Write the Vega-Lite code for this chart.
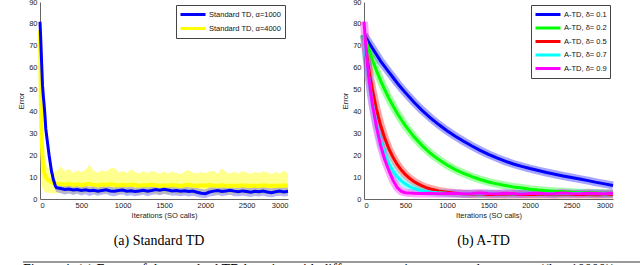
{
"$schema": "https://vega.github.io/schema/vega-lite/v6.json",
"padding": {"left": 17, "top": -2, "right": 0, "bottom": 0},
"config": {
  "view": {"stroke": null},
  "font": "Liberation Sans",
  "axis": {"grid": false, "ticks": false, "domainColor": "#666", "labelFont": "Liberation Sans", "labelFontSize": 7.5, "labelColor": "#222", "titleFont": "Liberation Sans", "titleFontSize": 7.5, "titleFontWeight": "normal", "titleColor": "#222", "format": "d"},
  "legend": {"orient": "top-right", "offset": 3, "strokeColor": "#444", "fillColor": "white", "padding": 3, "cornerRadius": 0, "symbolType": "M-1,0H4", "symbolStrokeWidth": 3, "symbolSize": 100, "symbolOpacity": 1, "labelFont": "Liberation Sans", "labelFontSize": 7.5, "labelColor": "#111", "labelOffset": 17, "rowPadding": 1}
},
"datasets": {
  "left": [
    {"x":0,"a":1000,"v":81,"lo":79,"hi":82},{"x":10,"a":1000,"v":72,"lo":69,"hi":75},{"x":20,"a":1000,"v":62,"lo":58,"hi":66},{"x":30,"a":1000,"v":52,"lo":48,"hi":56},{"x":40,"a":1000,"v":47,"lo":43,"hi":51},{"x":50,"a":1000,"v":43,"lo":39,"hi":46},{"x":60,"a":1000,"v":38,"lo":34,"hi":41},{"x":70,"a":1000,"v":32,"lo":29,"hi":35},{"x":80,"a":1000,"v":29,"lo":26,"hi":32},{"x":90,"a":1000,"v":26,"lo":23,"hi":29},{"x":100,"a":1000,"v":23,"lo":20,"hi":26},{"x":110,"a":1000,"v":20,"lo":17.5,"hi":23},{"x":120,"a":1000,"v":17.5,"lo":15,"hi":20},{"x":130,"a":1000,"v":15,"lo":12.5,"hi":17.5},{"x":140,"a":1000,"v":12.5,"lo":10,"hi":15},{"x":150,"a":1000,"v":11,"lo":8.5,"hi":13},{"x":160,"a":1000,"v":9,"lo":7,"hi":11},{"x":170,"a":1000,"v":8,"lo":6,"hi":10},{"x":185,"a":1000,"v":6,"lo":4,"hi":8},{"x":200,"a":1000,"v":5.2,"lo":3.2,"hi":7.2},
    {"x":250,"a":1000,"v":4.8,"lo":2.6,"hi":6.7},{"x":300,"a":1000,"v":4.4,"lo":2.1,"hi":6.0},{"x":350,"a":1000,"v":4.6,"lo":2.5,"hi":6.6},{"x":400,"a":1000,"v":4.1,"lo":1.8,"hi":5.9},{"x":450,"a":1000,"v":4.3,"lo":2.4,"hi":6.3},{"x":500,"a":1000,"v":3.9,"lo":1.6,"hi":5.6},{"x":550,"a":1000,"v":4.2,"lo":2.2,"hi":6.1},{"x":600,"a":1000,"v":3.8,"lo":1.4,"hi":5.5},{"x":650,"a":1000,"v":4.0,"lo":2.0,"hi":6.2},{"x":700,"a":1000,"v":3.6,"lo":1.5,"hi":5.3},{"x":750,"a":1000,"v":3.9,"lo":1.9,"hi":5.8},{"x":800,"a":1000,"v":4.2,"lo":2.3,"hi":6.0},{"x":850,"a":1000,"v":3.7,"lo":1.5,"hi":5.6},{"x":900,"a":1000,"v":3.5,"lo":1.2,"hi":5.2},{"x":950,"a":1000,"v":3.9,"lo":1.8,"hi":5.9},{"x":1000,"a":1000,"v":4.1,"lo":2.1,"hi":6.0},{"x":1050,"a":1000,"v":3.6,"lo":1.4,"hi":5.4},{"x":1100,"a":1000,"v":3.8,"lo":1.7,"hi":5.9},{"x":1150,"a":1000,"v":3.4,"lo":1.3,"hi":5.1},{"x":1200,"a":1000,"v":3.7,"lo":1.6,"hi":5.5},{"x":1250,"a":1000,"v":4.0,"lo":1.9,"hi":6.1},{"x":1300,"a":1000,"v":3.6,"lo":1.3,"hi":5.4},{"x":1350,"a":1000,"v":3.9,"lo":1.8,"hi":5.8},{"x":1400,"a":1000,"v":4.3,"lo":2.2,"hi":6.2},{"x":1450,"a":1000,"v":4.0,"lo":1.7,"hi":5.9},{"x":1500,"a":1000,"v":4.4,"lo":2.3,"hi":6.4},{"x":1550,"a":1000,"v":4.1,"lo":1.9,"hi":6.0},{"x":1600,"a":1000,"v":3.7,"lo":1.5,"hi":5.7},{"x":1650,"a":1000,"v":3.9,"lo":1.6,"hi":5.8},{"x":1700,"a":1000,"v":3.5,"lo":1.2,"hi":5.3},{"x":1750,"a":1000,"v":3.8,"lo":1.6,"hi":5.9},{"x":1800,"a":1000,"v":3.4,"lo":1.1,"hi":5.2},{"x":1850,"a":1000,"v":3.6,"lo":1.5,"hi":5.4},{"x":1900,"a":1000,"v":3.1,"lo":1.0,"hi":5.0},{"x":1950,"a":1000,"v":2.6,"lo":0.6,"hi":4.6},{"x":2000,"a":1000,"v":2.4,"lo":0.5,"hi":4.3},{"x":2050,"a":1000,"v":3.2,"lo":1.1,"hi":5.2},{"x":2100,"a":1000,"v":3.6,"lo":1.4,"hi":5.5},{"x":2150,"a":1000,"v":3.9,"lo":1.8,"hi":5.8},{"x":2200,"a":1000,"v":3.4,"lo":1.2,"hi":5.3},{"x":2250,"a":1000,"v":3.7,"lo":1.6,"hi":5.7},{"x":2300,"a":1000,"v":4.0,"lo":1.9,"hi":6.0},{"x":2350,"a":1000,"v":3.6,"lo":1.3,"hi":5.4},{"x":2400,"a":1000,"v":3.3,"lo":1.2,"hi":5.2},{"x":2450,"a":1000,"v":3.7,"lo":1.5,"hi":5.6},{"x":2500,"a":1000,"v":3.4,"lo":1.3,"hi":5.3},{"x":2550,"a":1000,"v":3.1,"lo":0.9,"hi":5.0},{"x":2600,"a":1000,"v":3.5,"lo":1.4,"hi":5.5},{"x":2650,"a":1000,"v":3.3,"lo":1.1,"hi":5.2},{"x":2700,"a":1000,"v":3.6,"lo":1.5,"hi":5.6},{"x":2750,"a":1000,"v":3.2,"lo":1.0,"hi":5.1},{"x":2800,"a":1000,"v":2.9,"lo":0.8,"hi":4.8},{"x":2850,"a":1000,"v":3.3,"lo":1.2,"hi":5.3},{"x":2900,"a":1000,"v":3.6,"lo":1.5,"hi":5.5},{"x":2950,"a":1000,"v":3.2,"lo":1.1,"hi":5.2},{"x":3000,"a":1000,"v":3.5,"lo":1.4,"hi":5.4},
    {"x":0,"a":4000,"v":77,"lo":30,"hi":80},{"x":5,"a":4000,"v":62,"lo":22,"hi":70},{"x":10,"a":4000,"v":45,"lo":15,"hi":55},{"x":15,"a":4000,"v":35,"lo":10,"hi":42},{"x":20,"a":4000,"v":28,"lo":7,"hi":34},{"x":30,"a":4000,"v":20,"lo":5,"hi":26},{"x":40,"a":4000,"v":15,"lo":4,"hi":21},{"x":50,"a":4000,"v":12,"lo":3.5,"hi":18},{"x":70,"a":4000,"v":10,"lo":3,"hi":16},{"x":100,"a":4000,"v":8.5,"lo":2.8,"hi":14},{"x":150,"a":4000,"v":7.5,"lo":2.5,"hi":13.5},{"x":200,"a":4000,"v":7.0,"lo":2.6,"hi":12.5},
    {"x":250,"a":4000,"v":6.8,"lo":2.9,"hi":14.8},{"x":300,"a":4000,"v":6.6,"lo":2.4,"hi":12.6},{"x":350,"a":4000,"v":6.9,"lo":3.1,"hi":13.8},{"x":400,"a":4000,"v":6.4,"lo":2.2,"hi":11.9},{"x":450,"a":4000,"v":6.7,"lo":2.8,"hi":13.1},{"x":500,"a":4000,"v":6.3,"lo":2.3,"hi":12.2},{"x":550,"a":4000,"v":6.6,"lo":2.9,"hi":13.4},{"x":600,"a":4000,"v":6.9,"lo":3.2,"hi":15.6},{"x":650,"a":4000,"v":6.5,"lo":2.6,"hi":12.9},{"x":700,"a":4000,"v":6.2,"lo":2.1,"hi":12.0},{"x":750,"a":4000,"v":6.6,"lo":2.7,"hi":13.2},{"x":800,"a":4000,"v":6.4,"lo":2.5,"hi":12.4},{"x":850,"a":4000,"v":6.8,"lo":3.0,"hi":13.9},{"x":900,"a":4000,"v":6.5,"lo":2.4,"hi":14.3},{"x":950,"a":4000,"v":6.2,"lo":2.2,"hi":12.1},{"x":1000,"a":4000,"v":6.5,"lo":2.8,"hi":12.8},{"x":1050,"a":4000,"v":6.3,"lo":2.3,"hi":11.9},{"x":1100,"a":4000,"v":6.6,"lo":2.9,"hi":13.5},{"x":1150,"a":4000,"v":6.4,"lo":2.4,"hi":12.3},{"x":1200,"a":4000,"v":6.1,"lo":2.0,"hi":11.6},{"x":1250,"a":4000,"v":6.4,"lo":2.6,"hi":12.7},{"x":1300,"a":4000,"v":6.2,"lo":2.2,"hi":11.8},{"x":1350,"a":4000,"v":6.5,"lo":2.7,"hi":12.9},{"x":1400,"a":4000,"v":6.3,"lo":2.3,"hi":12.2},{"x":1450,"a":4000,"v":6.0,"lo":2.0,"hi":11.5},{"x":1500,"a":4000,"v":6.3,"lo":2.5,"hi":12.6},{"x":1550,"a":4000,"v":6.1,"lo":2.1,"hi":11.7},{"x":1600,"a":4000,"v":6.4,"lo":2.6,"hi":12.4},{"x":1650,"a":4000,"v":6.2,"lo":2.2,"hi":11.9},{"x":1700,"a":4000,"v":6.0,"lo":2.0,"hi":11.3},{"x":1750,"a":4000,"v":6.3,"lo":2.4,"hi":12.5},{"x":1800,"a":4000,"v":6.5,"lo":2.7,"hi":13.2},{"x":1850,"a":4000,"v":6.2,"lo":2.3,"hi":12.0},{"x":1900,"a":4000,"v":6.0,"lo":2.0,"hi":11.6},{"x":1950,"a":4000,"v":6.3,"lo":2.5,"hi":12.3},{"x":2000,"a":4000,"v":6.1,"lo":2.1,"hi":11.8},{"x":2050,"a":4000,"v":6.4,"lo":2.6,"hi":12.6},{"x":2100,"a":4000,"v":6.2,"lo":2.2,"hi":12.9},{"x":2150,"a":4000,"v":6.0,"lo":2.0,"hi":11.4},{"x":2200,"a":4000,"v":6.3,"lo":2.4,"hi":14.0},{"x":2250,"a":4000,"v":6.1,"lo":2.2,"hi":12.2},{"x":2300,"a":4000,"v":5.9,"lo":1.9,"hi":11.6},{"x":2350,"a":4000,"v":6.2,"lo":2.4,"hi":12.4},{"x":2400,"a":4000,"v":6.0,"lo":2.1,"hi":11.7},{"x":2450,"a":4000,"v":6.3,"lo":2.5,"hi":12.8},{"x":2500,"a":4000,"v":6.1,"lo":2.2,"hi":12.0},{"x":2550,"a":4000,"v":5.9,"lo":1.9,"hi":11.5},{"x":2600,"a":4000,"v":6.2,"lo":2.3,"hi":12.3},{"x":2650,"a":4000,"v":6.0,"lo":2.1,"hi":11.8},{"x":2700,"a":4000,"v":6.3,"lo":2.5,"hi":12.7},{"x":2750,"a":4000,"v":6.1,"lo":2.2,"hi":12.1},{"x":2800,"a":4000,"v":5.9,"lo":1.9,"hi":11.4},{"x":2850,"a":4000,"v":6.2,"lo":2.3,"hi":12.2},{"x":2900,"a":4000,"v":6.0,"lo":2.1,"hi":11.7},{"x":2950,"a":4000,"v":6.3,"lo":2.5,"hi":12.9},{"x":3000,"a":4000,"v":6.1,"lo":2.2,"hi":11.6}
  ],
  "right": [
    {"x":0,"d":0.1,"v":75},{"x":50,"d":0.1,"v":72},{"x":100,"d":0.1,"v":69},{"x":150,"d":0.1,"v":66},{"x":200,"d":0.1,"v":63},{"x":250,"d":0.1,"v":60.5},{"x":300,"d":0.1,"v":58},{"x":350,"d":0.1,"v":55.5},{"x":400,"d":0.1,"v":53},{"x":450,"d":0.1,"v":50.7},{"x":500,"d":0.1,"v":48.5},{"x":600,"d":0.1,"v":44.3},{"x":700,"d":0.1,"v":40.5},{"x":800,"d":0.1,"v":37.1},{"x":900,"d":0.1,"v":34},{"x":1000,"d":0.1,"v":31.2},{"x":1100,"d":0.1,"v":28.7},{"x":1200,"d":0.1,"v":26.4},{"x":1300,"d":0.1,"v":24.2},{"x":1400,"d":0.1,"v":22.2},{"x":1500,"d":0.1,"v":20.4},{"x":1600,"d":0.1,"v":18.8},{"x":1700,"d":0.1,"v":17.3},{"x":1800,"d":0.1,"v":16},{"x":1900,"d":0.1,"v":14.9},{"x":2000,"d":0.1,"v":13.9},{"x":2100,"d":0.1,"v":13},{"x":2200,"d":0.1,"v":12.1},{"x":2300,"d":0.1,"v":11.3},{"x":2400,"d":0.1,"v":10.5},{"x":2500,"d":0.1,"v":9.8},{"x":2600,"d":0.1,"v":9.1},{"x":2700,"d":0.1,"v":8.4},{"x":2800,"d":0.1,"v":7.6},{"x":2900,"d":0.1,"v":6.9},{"x":3000,"d":0.1,"v":6.2},
    {"x":0,"d":0.2,"v":75},{"x":50,"d":0.2,"v":69.1},{"x":100,"d":0.2,"v":63.7},{"x":150,"d":0.2,"v":58.7},{"x":200,"d":0.2,"v":54.1},{"x":250,"d":0.2,"v":49.9},{"x":300,"d":0.2,"v":46},{"x":350,"d":0.2,"v":42.5},{"x":400,"d":0.2,"v":39.2},{"x":450,"d":0.2,"v":36.2},{"x":500,"d":0.2,"v":33.4},{"x":600,"d":0.2,"v":28.5},{"x":700,"d":0.2,"v":24.4},{"x":800,"d":0.2,"v":20.9},{"x":900,"d":0.2,"v":18},{"x":1000,"d":0.2,"v":15.5},{"x":1100,"d":0.2,"v":13.4},{"x":1200,"d":0.2,"v":11.7},{"x":1300,"d":0.2,"v":10.2},{"x":1400,"d":0.2,"v":8.9},{"x":1500,"d":0.2,"v":7.8},{"x":1600,"d":0.2,"v":6.9},{"x":1700,"d":0.2,"v":6.2},{"x":1800,"d":0.2,"v":5.5},{"x":1900,"d":0.2,"v":5.0},{"x":2000,"d":0.2,"v":4.5},{"x":2100,"d":0.2,"v":4.1},{"x":2200,"d":0.2,"v":3.8},{"x":2300,"d":0.2,"v":3.5},{"x":2400,"d":0.2,"v":3.3},{"x":2500,"d":0.2,"v":3.1},{"x":2600,"d":0.2,"v":2.9},{"x":2700,"d":0.2,"v":2.8},{"x":2800,"d":0.2,"v":2.7},{"x":2900,"d":0.2,"v":2.6},{"x":3000,"d":0.2,"v":2.5},
    {"x":0,"d":0.5,"v":75},{"x":25,"d":0.5,"v":67.8},{"x":50,"d":0.5,"v":61.3},{"x":75,"d":0.5,"v":55.3},{"x":100,"d":0.5,"v":50.1},{"x":150,"d":0.5,"v":41.1},{"x":200,"d":0.5,"v":33.7},{"x":250,"d":0.5,"v":27.8},{"x":300,"d":0.5,"v":22.9},{"x":350,"d":0.5,"v":19},{"x":400,"d":0.5,"v":15.8},{"x":450,"d":0.5,"v":13.2},{"x":500,"d":0.5,"v":11.1},{"x":550,"d":0.5,"v":9.4},{"x":600,"d":0.5,"v":8},{"x":650,"d":0.5,"v":6.9},{"x":700,"d":0.5,"v":6},{"x":750,"d":0.5,"v":5.2},{"x":800,"d":0.5,"v":4.6},{"x":900,"d":0.5,"v":3.7},{"x":1000,"d":0.5,"v":3.1},{"x":1100,"d":0.5,"v":2.6},{"x":1200,"d":0.5,"v":2.4},{"x":1300,"d":0.5,"v":2.2},{"x":1400,"d":0.5,"v":2.3},{"x":1500,"d":0.5,"v":2.1},{"x":1600,"d":0.5,"v":2.2},{"x":1700,"d":0.5,"v":2.0},{"x":1800,"d":0.5,"v":2.2},{"x":1900,"d":0.5,"v":2.1},{"x":2000,"d":0.5,"v":2.0},{"x":2100,"d":0.5,"v":2.2},{"x":2200,"d":0.5,"v":2.1},{"x":2300,"d":0.5,"v":1.9},{"x":2400,"d":0.5,"v":2.1},{"x":2500,"d":0.5,"v":2.0},{"x":2600,"d":0.5,"v":2.2},{"x":2700,"d":0.5,"v":2.0},{"x":2800,"d":0.5,"v":1.9},{"x":2900,"d":0.5,"v":2.1},{"x":3000,"d":0.5,"v":2.0},
    {"x":0,"d":0.7,"v":75},{"x":25,"d":0.7,"v":65.6},{"x":50,"d":0.7,"v":57.6},{"x":75,"d":0.7,"v":50.4},{"x":100,"d":0.7,"v":44.2},{"x":150,"d":0.7,"v":34},{"x":200,"d":0.7,"v":26.3},{"x":250,"d":0.7,"v":20.5},{"x":300,"d":0.7,"v":16.1},{"x":350,"d":0.7,"v":12.7},{"x":400,"d":0.7,"v":10.2},{"x":450,"d":0.7,"v":8.3},{"x":500,"d":0.7,"v":6.8},{"x":550,"d":0.7,"v":5.7},{"x":600,"d":0.7,"v":4.9},{"x":650,"d":0.7,"v":4.3},{"x":700,"d":0.7,"v":3.8},{"x":800,"d":0.7,"v":3.2},{"x":900,"d":0.7,"v":2.8},{"x":1000,"d":0.7,"v":2.6},{"x":1100,"d":0.7,"v":2.5},{"x":1200,"d":0.7,"v":2.4},{"x":1300,"d":0.7,"v":2.5},{"x":1400,"d":0.7,"v":2.3},{"x":1500,"d":0.7,"v":2.6},{"x":1600,"d":0.7,"v":2.4},{"x":1700,"d":0.7,"v":2.5},{"x":1800,"d":0.7,"v":2.3},{"x":1900,"d":0.7,"v":2.5},{"x":2000,"d":0.7,"v":2.6},{"x":2100,"d":0.7,"v":2.4},{"x":2200,"d":0.7,"v":2.5},{"x":2300,"d":0.7,"v":2.3},{"x":2400,"d":0.7,"v":2.5},{"x":2500,"d":0.7,"v":2.4},{"x":2600,"d":0.7,"v":2.6},{"x":2700,"d":0.7,"v":2.4},{"x":2800,"d":0.7,"v":2.5},{"x":2900,"d":0.7,"v":2.3},{"x":3000,"d":0.7,"v":2.5},
    {"x":0,"d":0.9,"v":81},{"x":25,"d":0.9,"v":68},{"x":50,"d":0.9,"v":58},{"x":75,"d":0.9,"v":50.5},{"x":100,"d":0.9,"v":43.5},{"x":150,"d":0.9,"v":33},{"x":200,"d":0.9,"v":24.5},{"x":250,"d":0.9,"v":18},{"x":300,"d":0.9,"v":13},{"x":350,"d":0.9,"v":8.5},{"x":400,"d":0.9,"v":5.2},{"x":450,"d":0.9,"v":3.5},{"x":500,"d":0.9,"v":2.9},{"x":550,"d":0.9,"v":2.7},{"x":600,"d":0.9,"v":2.6},{"x":700,"d":0.9,"v":2.5},{"x":800,"d":0.9,"v":2.6},{"x":900,"d":0.9,"v":2.4},{"x":1000,"d":0.9,"v":2.5},{"x":1100,"d":0.9,"v":2.6},{"x":1200,"d":0.9,"v":2.4},{"x":1300,"d":0.9,"v":2.5},{"x":1400,"d":0.9,"v":2.7},{"x":1500,"d":0.9,"v":2.5},{"x":1600,"d":0.9,"v":2.4},{"x":1700,"d":0.9,"v":2.6},{"x":1800,"d":0.9,"v":2.5},{"x":1900,"d":0.9,"v":2.3},{"x":2000,"d":0.9,"v":2.5},{"x":2100,"d":0.9,"v":2.6},{"x":2200,"d":0.9,"v":2.4},{"x":2300,"d":0.9,"v":2.5},{"x":2400,"d":0.9,"v":2.7},{"x":2500,"d":0.9,"v":2.5},{"x":2600,"d":0.9,"v":2.4},{"x":2700,"d":0.9,"v":2.6},{"x":2800,"d":0.9,"v":2.5},{"x":2900,"d":0.9,"v":2.4},{"x":3000,"d":0.9,"v":2.6}
  ],
  "cap": [{"t": "Figure 4: (a) Errors of the standard TD learning with different step sizes averaged over runs ((k = 10000))"}]
},
"spacing": 13,
"vconcat": [
  {
    "spacing": 45,
    "resolve": {"scale": {"color": "independent"}, "legend": {"color": "independent"}},
    "hconcat": [
      {
        "width": 248, "height": 197,
        "title": {"text": "(a) Standard TD", "orient": "bottom", "font": "Liberation Serif", "fontSize": 14, "fontWeight": "normal", "offset": 15, "dx": -5, "color": "#000"},
        "data": {"name": "left"},
        "encoding": {
          "x": {"field": "x", "type": "quantitative", "scale": {"domain": [0, 3000], "nice": false}, "axis": {"title": "Iterations (SO calls)", "values": [0,500,1000,1500,2000,2500,3000], "labelPadding": 2, "titlePadding": 3}},
          "y": {"field": "v", "type": "quantitative", "scale": {"domain": [0, 90], "nice": false}, "axis": {"title": "Error", "values": [0,10,20,30,40,50,60,70,80,90], "labelPadding": 3, "titlePadding": 3}}
        },
        "layer": [
          {"transform": [{"filter": "datum.a == 4000"}], "mark": {"type": "area", "fill": "#ffff70", "fillOpacity": 0.8},
           "encoding": {"y": {"field": "lo", "type": "quantitative"}, "y2": {"field": "hi"}}},
          {"transform": [{"filter": "datum.a == 1000"}], "mark": {"type": "area", "fill": "#7070ee", "fillOpacity": 0.5},
           "encoding": {"y": {"field": "lo", "type": "quantitative"}, "y2": {"field": "hi"}}},
          {"transform": [{"filter": "datum.a == 4000"}], "mark": {"type": "line", "strokeWidth": 4},
           "encoding": {"color": {"field": "a", "type": "nominal", "scale": {"domain": [1000, 4000], "range": ["#0000ff", "#ffff00"]}, "legend": {"title": null, "labelExpr": "'Standard TD, α=' + datum.label"}}}},
          {"transform": [{"filter": "datum.a == 1000"}], "mark": {"type": "line", "strokeWidth": 3},
           "encoding": {"color": {"field": "a", "type": "nominal"}}}
        ]
      },
      {
        "width": 249, "height": 197,
        "title": {"text": "(b) A-TD", "orient": "bottom", "font": "Liberation Serif", "fontSize": 14, "fontWeight": "normal", "offset": 15, "dx": -5, "color": "#000"},
        "data": {"name": "right"},
        "encoding": {
          "x": {"field": "x", "type": "quantitative", "scale": {"domain": [0, 3000], "nice": false}, "axis": {"title": "Iterations (SO calls)", "values": [0,500,1000,1500,2000,2500,3000], "labelPadding": 2, "titlePadding": 3}},
          "y": {"field": "v", "type": "quantitative", "scale": {"domain": [0, 90], "nice": false}, "axis": {"title": "Error", "values": [0,10,20,30,40,50,60,70,80,90], "labelPadding": 3, "titlePadding": 3}},
          "color": {"field": "d", "type": "nominal", "scale": {"domain": [0.1, 0.2, 0.5, 0.7, 0.9], "range": ["#0000ff", "#00ff00", "#ff0000", "#00ffff", "#ff00ff"]}, "legend": {"title": null, "labelExpr": "'A-TD, δ= ' + datum.label", "rowPadding": 0.5}}
        },
        "layer": [
          {"mark": {"type": "line", "strokeWidth": 8, "opacity": 0.35}},
          {"mark": {"type": "line", "strokeWidth": 3}}
        ]
      }
    ]
  },
  {
    "width": 623, "height": 3,
    "data": {"name": "cap"},
    "layer": [
      {"mark": {"type": "rule", "color": "#777", "strokeWidth": 1.5, "xOffset": -17, "x2Offset": 17},
       "encoding": {"x": {"datum": 0, "type": "quantitative", "scale": {"domain": [0, 1]}, "axis": null}, "x2": {"datum": 1}, "y": {"datum": 1, "type": "quantitative", "scale": {"domain": [0, 1]}, "axis": null}}},
      {"mark": {"type": "text", "align": "left", "baseline": "top", "font": "Liberation Serif", "fontSize": 14, "dx": -17, "dy": 1, "color": "#000"},
       "encoding": {"x": {"datum": 0, "type": "quantitative"}, "y": {"datum": 1, "type": "quantitative"}, "text": {"field": "t"}}}
    ]
  }
]
}
